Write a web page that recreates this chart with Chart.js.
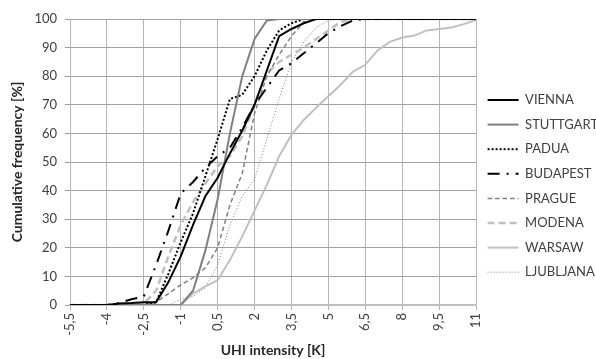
<!DOCTYPE html>
<html>
<head>
<meta charset="utf-8">
<script src="https://cdn.jsdelivr.net/npm/chart.js@4.4.0/dist/chart.umd.min.js"></script>
<style>
  html, body { margin: 0; padding: 0; background: #fff; }
  #wrap { width: 596px; height: 359px; }
</style>
</head>
<body>
<div id="wrap"><canvas id="uhiChart" width="596" height="359"></canvas></div>
<script>
// UHI intensity classes [K]
var uhiSteps = [-5.5, -5, -4.5, -4, -3.5, -3, -2.5, -2, -1.5, -1, -0.5, 0, 0.5, 1, 1.5, 2, 2.5, 3, 3.5, 4, 4.5, 5, 5.5, 6, 6.5, 7, 7.5, 8, 8.5, 9, 9.5, 10, 10.5, 11];
var xTickLabels = ["-5,5", "-4", "-2,5", "-1", "0,5", "2", "3,5", "5", "6,5", "8", "9,5", "11"];

// cumulative frequency [%] per city
var vienna    = [0, 0, 0, 0, 0.5, 0.7, 1, 1, 8, 17, 28, 38, 44.5, 53, 61, 70, 82, 94, 96.5, 98.5, 100, 100, 100, 100, 100, 100, 100, 100, 100, 100, 100, 100, 100, 100];
var stuttgart = [0, 0, 0, 0, 0, 0, 0, 0, 0, 0, 5, 19, 37, 60, 80, 93, 99.5, 100, 100, 100, 100, 100, 100, 100, 100, 100, 100, 100, 100, 100, 100, 100, 100, 100];
var padua     = [0, 0, 0, 0, 0, 0, 0, 1, 11, 22, 32, 45, 58, 72, 73.5, 80, 89, 96, 98.5, 100, 100, 100, 100, 100, 100, 100, 100, 100, 100, 100, 100, 100, 100, 100];
var budapest  = [0, 0, 0, 0, 0.7, 2, 3, 14, 26, 39, 43, 48, 52, 55, 62, 70, 76, 82, 84.5, 88, 91.5, 95, 97.5, 99.5, 100, 100, 100, 100, 100, 100, 100, 100, 100, 100];
var prague    = [0, 0, 0, 0, 0, 0, 0, 1, 4, 7, 9.5, 13, 20, 35, 46, 67, 80, 87.5, 94, 99, 100, 100, 100, 100, 100, 100, 100, 100, 100, 100, 100, 100, 100, 100];
var modena    = [0, 0, 0, 0, 0, 0, 0.5, 5, 17, 28, 36, 42.5, 48.5, 52, 59, 70, 81, 85, 87.5, 90, 93, 96, 99, 100, 100, 100, 100, 100, 100, 100, 100, 100, 100, 100];
var warsaw    = [0, 0, 0, 0, 0, 0, 0, 0, 0, 0, 4, 6.5, 8.7, 15.7, 24, 33, 42, 52, 59.5, 64.7, 69, 73, 77, 81.6, 84, 89, 92, 93.5, 94.2, 96, 96.5, 97, 98.2, 99.7];
var ljubljana = [0, 0, 0, 0, 0, 0, 0, 0, 0, 2, 3, 6, 14, 28, 38, 44, 58, 72, 85, 92, 97, 99.5, 100, 100, 100, 100, 100, 100, 100, 100, 100, 100, 100, 100];

Chart.defaults.font.family = "Lato, 'Open Sans', sans-serif";
Chart.defaults.color = "#404040";

function toPoints(vals) {
    return vals.map(function (v, i) {
        return { x: uhiSteps[i], y: v };
    });
}

function lineSet(label, vals, color, width, dash) {
    return {
        label: label,
        data: toPoints(vals),
        borderColor: color,
        backgroundColor: color,
        borderWidth: width,
        borderDash: dash,
        pointRadius: 0,
        tension: 0,
        fill: false,
    };
}

// force the legend column width so the plot ends where it does in the original
var legendWidth = {
    id: "legendWidth",
    afterInit: function (chart) {
        var lg = chart.legend;
        var baseFit = lg.fit;
        lg.fit = function () {
            baseFit.call(this);
            this.width = 120;
        };
    },
};

var uhiChart = new Chart(document.getElementById("uhiChart"), {
    type: "line",
    data: {
        datasets: [
            lineSet("VIENNA", vienna, "#000000", 2, []),
            lineSet("STUTTGART", stuttgart, "#808080", 2, []),
            lineSet("PADUA", padua, "#000000", 2, [2, 2]),
            lineSet("BUDAPEST", budapest, "#000000", 2, [12, 7, 2, 7]),
            lineSet("PRAGUE", prague, "#808080", 1.5, [4.5, 3]),
            lineSet("MODENA", modena, "#c0c0c0", 2.5, [7, 4]),
            lineSet("WARSAW", warsaw, "#c0c0c0", 2, []),
            lineSet("LJUBLJANA", ljubljana, "#7f7f7f", 1, [1, 2]),
        ],
    },
    plugins: [legendWidth],
    options: {
        responsive: false,
        animation: false,
        devicePixelRatio: 1,
        layout: {
            padding: { top: 19, left: 0, right: 0, bottom: 0 },
        },
        plugins: {
            legend: {
                position: "right",
                align: "start",
                title: {
                    display: true,
                    text: "",
                    font: { size: 1 },
                    padding: { top: 61.7, bottom: 0 },
                },
                labels: {
                    usePointStyle: true,
                    pointStyle: "line",
                    pointStyleWidth: 31,
                    padding: 11.6,
                    color: "#404040",
                    font: { size: 13 },
                    // legend samples take the dash and width of their line
                    generateLabels: function (chart) {
                        var items = Chart.defaults.plugins.legend.labels.generateLabels(chart);
                        items.forEach(function (item) {
                            var ds = chart.data.datasets[item.datasetIndex];
                            item.lineDash = ds.borderDash;
                            item.lineWidth = ds.borderWidth;
                            item.strokeStyle = ds.borderColor;
                        });
                        return items;
                    },
                },
            },
            tooltip: { enabled: false },
        },
        scales: {
            x: {
                type: "linear",
                min: -5.5,
                max: 11,
                afterFit: function (scale) {
                    scale.height = 54;
                },
                ticks: {
                    stepSize: 1.5,
                    minRotation: 90,
                    maxRotation: 90,
                    padding: 3,
                    color: "#404040",
                    font: { size: 13 },
                    callback: function (value, index) {
                        return xTickLabels[index];
                    },
                },
                grid: {
                    color: "#b5b5b5",
                    lineWidth: 1,
                    tickLength: 5,
                },
                border: { color: "#bfbfbf", width: 2 },
                title: {
                    display: true,
                    text: "UHI intensity [K]",
                    color: "#262626",
                    font: { size: 14, weight: "bold" },
                    padding: { top: 0, bottom: 0 },
                },
            },
            y: {
                min: 0,
                max: 100,
                afterFit: function (scale) {
                    scale.width = 70;
                },
                ticks: {
                    stepSize: 10,
                    padding: 8,
                    color: "#404040",
                    font: { size: 13 },
                },
                grid: {
                    color: "#a0a0a0",
                    lineWidth: 1,
                    tickLength: 5,
                },
                border: { color: "#b5b5b5", width: 1 },
                title: {
                    display: true,
                    text: "Cumulative frequency [%]",
                    color: "#262626",
                    font: { size: 14, weight: "bold" },
                    padding: { top: 9, bottom: 0 },
                },
            },
        },
    },
});
</script>
</body>
</html>
